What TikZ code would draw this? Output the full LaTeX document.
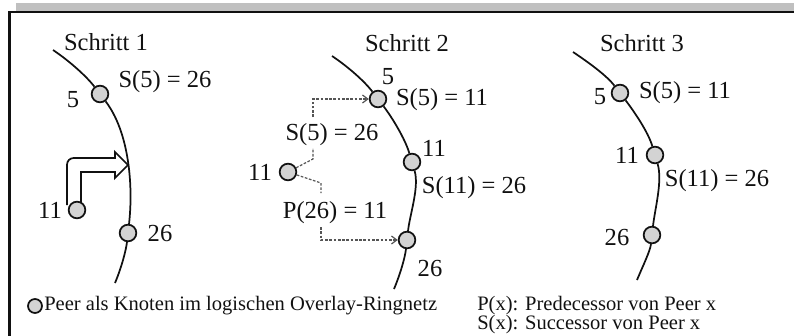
\documentclass[tikz,border=0pt]{standalone}
\usepackage{fontspec}
\setmainfont{Liberation Serif}
\usetikzlibrary{arrows.meta}
\definecolor{ink}{HTML}{111111}
\definecolor{peerfill}{HTML}{D3D3D3}
\definecolor{bargray}{HTML}{C0C0C0}
\definecolor{dashgray}{HTML}{555555}
\newcommand\lblsize{\fontsize{18.4}{20}\selectfont}
\newcommand\legsize{\fontsize{15.4}{17}\selectfont}

\begin{document}
\begin{tikzpicture}[
  x=0.75pt, y=-0.75pt,
  peer/.style={circle, draw=ink, fill=peerfill, line width=1.3pt, minimum size=12.5pt, inner sep=0pt},
  ring/.style={draw=ink, line width=1.3pt},
  lbl/.style={font=\lblsize, text=ink, inner sep=0pt},
  legtext/.style={font=\legsize, text=ink, anchor=west, inner sep=0pt},
  msg/.style={draw=dashgray, line width=0.9pt, dash pattern=on 2pt off 1.2pt},
  msgarrow/.style={msg, -{Straight Barb[length=4pt,width=6pt]}},
  bigarrow/.style={draw=ink, fill=white, line width=1.3pt}
]
\useasboundingbox (0,0) rectangle (794,336);
\fill[bargray] (16,3) rectangle (794,11);
\draw[ink, line width=1.6pt] (794,12) -- (9.5,12) -- (9.5,336);

\node[lbl] (title1) at (106,42) {Schritt 1};
\coordinate (top1) at (53,50);
\coordinate (bot1) at (115,283);
\draw[bigarrow] (81,205) -- (81,172) -- (115,172) -- (115,178) -- (128,165) -- (115,152) -- (115,158)
  [rounded corners=5pt] -- (67,158) [sharp corners] -- (67,205);
\node[peer] (p5a) at (100,94) {};
\node[peer] (p26a) at (128,233) {};
\node[peer] (p11a) at (77,210) {};
\draw[ring] (top1) .. controls +(17.5,11.7) and +(-12.7,-16.7) .. (p5a)
  .. controls +(29,38) and +(5.4,-47.7) .. (p26a)
  .. controls +(-1.9,16.9) and +(6.6,-15.7) .. (bot1);
\node[lbl] (l5a) at (73,100) {5};
\node[lbl] (s5a) at (165,82) {S(5) = 26};
\node[lbl] (l11a) at (50,210) {11};
\node[lbl] (l26a) at (160,233) {26};

\node[lbl] (title2) at (407,43) {Schritt 2};
\coordinate (top2) at (332,56);
\coordinate (bot2) at (394,289);
\node[peer] (p5b) at (378,99) {};
\node[peer] (p11b) at (412,162) {};
\node[peer] (p26b) at (407,240) {};
\node[peer] (q11b) at (288,172) {};
\draw[ring] (top2) .. controls +(17.5,11.7) and +(-12.7,-16.7) .. (p5b)
  .. controls +(14.5,19) and +(-6.9,-23) .. (p11b)
  .. controls +(7.4,25) and +(2.9,-25.8) .. (p26b)
  .. controls +(-1.9,16.9) and +(6.6,-15.7) .. (bot2);
\node[lbl] (l5b) at (388,77) {5};
\node[lbl] (s5b) at (442,100) {S(5) = 11};
\node[lbl] (l11b) at (434,148) {11};
\node[lbl] (s11b) at (474,188) {S(11) = 26};
\node[lbl] (l26b) at (430,268) {26};
\node[lbl] (lq11b) at (260,172) {11};
\node[lbl] (ask) at (332,135) {S(5) = 26};
\node[lbl] (tell) at (335,213) {P(26) = 11};
\coordinate (ka) at (313,159);
\coordinate (kb) at (313,148);
\coordinate (kc) at (313,117);
\coordinate (kd) at (321,183);
\coordinate (ke) at (321,193);
\coordinate (kf) at (321,227);
\draw[msg] (q11b) -- (ka) -- (kb);
\draw[msgarrow] (kc) |- (p5b);
\draw[msg] (q11b) -- (kd) -- (ke);
\draw[msgarrow] (kf) |- (p26b);

\node[lbl] (title3) at (642,43) {Schritt 3};
\coordinate (top3) at (573,52);
\coordinate (bot3) at (637,280);
\node[peer] (p5c) at (620,93) {};
\node[peer] (p11c) at (655,155) {};
\node[peer] (p26c) at (652,235) {};
\draw[ring] (top3) .. controls +(17.5,11.7) and +(-12.7,-16.7) .. (p5c)
  .. controls +(14.5,19) and +(-6.9,-23) .. (p11c)
  .. controls +(7.7,25.9) and +(3,-26.8) .. (p26c)
  .. controls +(-1.8,15.9) and +(6.2,-14.8) .. (bot3);
\node[lbl] (l5c) at (600,97) {5};
\node[lbl] (s5c) at (685,93) {S(5) = 11};
\node[lbl] (l11c) at (627,155) {11};
\node[lbl] (s11c) at (717,181) {S(11) = 26};
\node[lbl] (l26c) at (617,237) {26};

\node[peer, minimum size=10.5pt] (legpeer) at (35,306) {};
\node[legtext] (legring) at (44,306) {Peer als Knoten im logischen Overlay-Ringnetz};
\node[legtext] (legp) at (477,306) {P(x): Predecessor von Peer x};
\node[legtext] (legs) at (477,325) {S(x): Successor von Peer x};
\end{tikzpicture}
\end{document}
